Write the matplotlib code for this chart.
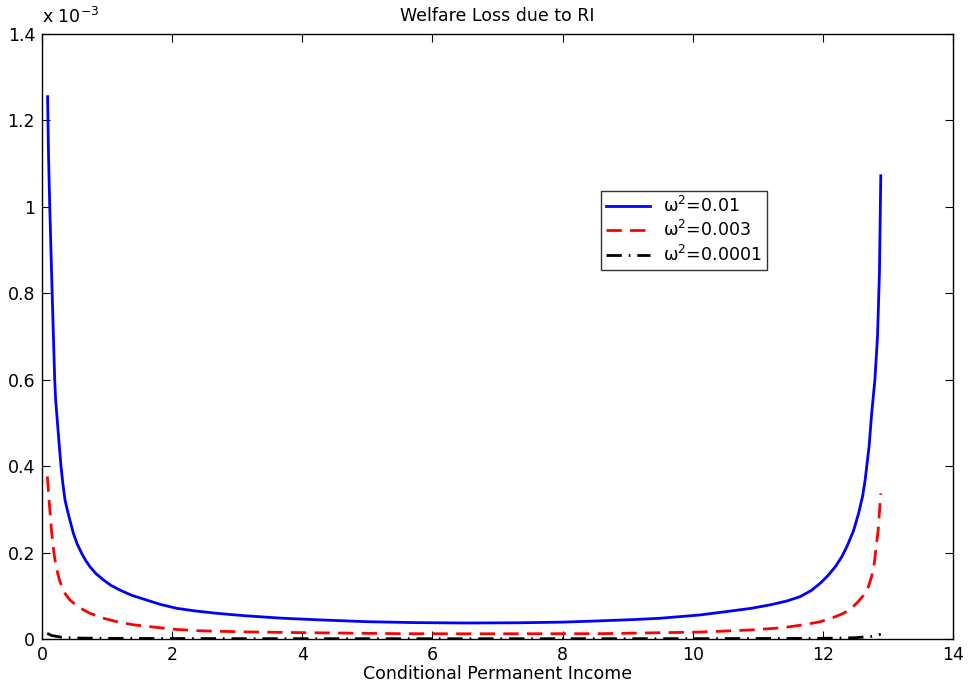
import matplotlib
matplotlib.use("Agg")
import matplotlib.pyplot as plt

plt.rcParams["font.family"] = ["DejaVu Sans"]
plt.rcParams["mathtext.fontset"] = "dejavusans"

# values (welfare loss in units of 1e-3)
x_blue = [0.086, 0.1, 0.119, 0.156, 0.195, 0.21, 0.25, 0.292, 0.32, 0.353,
          0.39, 0.42, 0.481, 0.54, 0.61, 0.67, 0.738, 0.83, 0.942, 1.06, 1.2,
          1.38, 1.61, 1.82, 2.07, 2.35, 2.68, 3.1, 3.7, 4.3, 5.0, 5.7, 6.5,
          7.3, 8.0, 8.58, 9.1, 9.5, 10.11, 10.6, 10.9, 11.19, 11.45, 11.65,
          11.82, 11.96, 12.08, 12.19, 12.29, 12.37, 12.47, 12.55, 12.61,
          12.65, 12.71, 12.75, 12.80, 12.84, 12.87, 12.89]
y_blue = [1.255, 1.12, 1.0, 0.8, 0.6, 0.553, 0.476, 0.399, 0.36, 0.322,
          0.298, 0.28, 0.245, 0.22, 0.198, 0.182, 0.167, 0.151, 0.137, 0.124,
          0.113, 0.101, 0.090, 0.080, 0.071, 0.065, 0.0595, 0.054, 0.048,
          0.044, 0.040, 0.038, 0.037, 0.0375, 0.039, 0.042, 0.045, 0.048,
          0.0556, 0.065, 0.071, 0.079, 0.088, 0.098, 0.112, 0.129, 0.147,
          0.167, 0.19, 0.214, 0.25, 0.291, 0.33, 0.368, 0.445, 0.522, 0.60,
          0.70, 0.85, 1.072]

x_red = [0.082, 0.108, 0.149, 0.184, 0.22, 0.266, 0.34, 0.43, 0.58, 0.738,
         0.92, 1.15, 1.4, 1.66, 2.07, 2.43, 3.1, 3.96, 5.5, 6.5, 8.58, 10.11,
         10.9, 11.29, 11.5, 11.75, 11.96, 12.15, 12.31, 12.43, 12.52, 12.62,
         12.70, 12.75, 12.79, 12.85, 12.89]
y_red = [0.376, 0.322, 0.245, 0.198, 0.165, 0.137, 0.108, 0.090, 0.072,
         0.0595, 0.049, 0.040, 0.033, 0.0285, 0.022, 0.019, 0.0165, 0.0147,
         0.0123, 0.012, 0.0123, 0.016, 0.021, 0.025, 0.0285, 0.034, 0.040,
         0.049, 0.059, 0.07, 0.083, 0.10, 0.121, 0.145, 0.175, 0.252, 0.337]

x_black = [0.08, 0.15, 0.3, 0.6, 1.0, 3.0, 6.5, 10.0, 12.0, 12.5, 12.75, 12.89]
y_black = [0.013, 0.008, 0.004, 0.002, 0.0015, 0.0008, 0.0006, 0.0008,
           0.0015, 0.003, 0.006, 0.011]

labels = ["ω$^2$=0.01", "ω$^2$=0.003", "ω$^2$=0.0001"]

fig = plt.figure(figsize=(9.68, 6.92), dpi=100)
ax = fig.add_axes([0.0434, 0.0766, 0.9411, 0.8743])

ax.plot(x_blue, y_blue, color="#0000ff", lw=2, solid_joinstyle="round",
        label=labels[0])
ax.plot(x_red, y_red, color="#ff0000", lw=2, dashes=(5.5, 3), label=labels[1])
ax.plot(x_black, y_black, color="black", lw=2, dashes=(5.5, 2.5, 0.6, 2.5),
        label=labels[2])

ax.set_xlim(0, 14)
ax.set_ylim(0, 1.4)
ax.set_xticks(range(0, 15, 2))
ax.set_yticks([0, 0.2, 0.4, 0.6, 0.8, 1.0, 1.2, 1.4])
ax.set_yticklabels(["0", "0.2", "0.4", "0.6", "0.8", "1", "1.2", "1.4"])
ax.tick_params(direction="in", top=True, right=True, length=6, width=0.8,
               labelsize=12.5, pad=5)
for s in ax.spines.values():
    s.set_linewidth(1)

ax.text(0, 1.012, r"x 10$^{-3}$", transform=ax.transAxes, ha="left",
        va="bottom", fontsize=12.5)
ax.set_title("Welfare Loss due to RI", fontsize=12.5, pad=9)
ax.set_xlabel("Conditional Permanent Income", fontsize=12.5, labelpad=1)

leg = ax.legend(loc="upper left", bbox_to_anchor=(0.6136, 0.741), fontsize=12.5,
                frameon=True, fancybox=False, handlelength=2.5,
                borderpad=0.3, labelspacing=0.25, handletextpad=0.8,
                borderaxespad=0)
leg.get_frame().set_edgecolor("black")
leg.get_frame().set_linewidth(1)

fig.savefig("out.png", dpi=100)
